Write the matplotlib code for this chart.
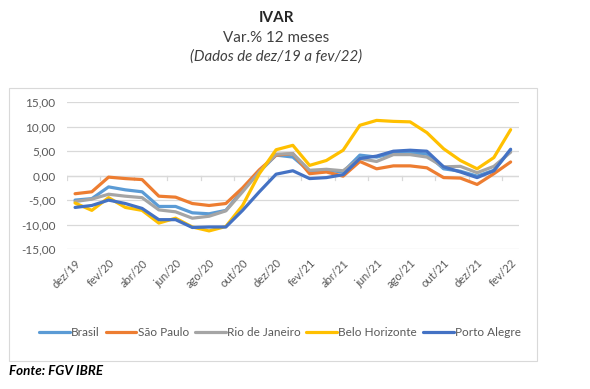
import matplotlib
matplotlib.use('Agg')
import matplotlib.pyplot as plt
from matplotlib.patches import Rectangle

# Data (var.% 12 meses), dez/19 .. fev/22
months = ['dez/19', 'jan/20', 'fev/20', 'mar/20', 'abr/20', 'mai/20', 'jun/20',
          'jul/20', 'ago/20', 'set/20', 'out/20', 'nov/20', 'dez/20', 'jan/21',
          'fev/21', 'mar/21', 'abr/21', 'mai/21', 'jun/21', 'jul/21', 'ago/21',
          'set/21', 'out/21', 'nov/21', 'dez/21', 'jan/22', 'fev/22']

brasil = [-5.0, -4.7, -2.3, -2.9, -3.3, -6.3, -6.3, -7.6, -7.8, -7.1, -3.0, 0.8, 4.2, 3.8,
          0.9, 1.1, 0.75, 4.2, 3.8, 4.6, 4.7, 4.4, 1.4, 0.9, -0.1, 1.1, 5.2]
sao_paulo = [-3.7, -3.3, -0.3, -0.6, -0.8, -4.2, -4.4, -5.7, -6.1, -5.7, -2.5, 1.2, 4.2, 4.5,
             0.4, 0.75, -0.1, 2.9, 1.4, 2.0, 2.0, 1.6, -0.4, -0.5, -1.8, 0.4, 2.8]
rio = [-5.3, -4.8, -3.8, -4.2, -4.5, -7.0, -7.4, -8.7, -8.3, -7.2, -3.3, 0.8, 4.4, 4.5,
       1.1, 1.3, 1.0, 3.5, 2.9, 4.3, 4.3, 3.8, 1.8, 1.9, 0.6, 1.9, 4.8]
belo_horizonte = [-5.6, -7.1, -4.5, -6.5, -7.1, -9.7, -8.7, -10.5, -11.3, -10.4, -6.1, 0.4, 5.3, 6.2,
                  2.1, 3.1, 5.2, 10.3, 11.3, 11.1, 11.0, 8.8, 5.5, 3.1, 1.4, 3.7, 9.4]
porto_alegre = [-6.5, -6.1, -5.0, -5.7, -6.7, -9.0, -9.0, -10.6, -10.5, -10.5, -7.1, -3.3, 0.3, 1.0,
                -0.6, -0.4, 0.2, 3.5, 4.0, 5.0, 5.2, 5.0, 1.8, 0.75, -0.4, 1.0, 5.4]

series = [
    ('Brasil', brasil, '#5B9BD5'),
    ('São Paulo', sao_paulo, '#ED7D31'),
    ('Rio de Janeiro', rio, '#A5A5A5'),
    ('Belo Horizonte', belo_horizonte, '#FFC000'),
    ('Porto Alegre', porto_alegre, '#4472C4'),
]

yticks = [15, 10, 5, 0, -5, -10, -15]

plt.rcParams['font.family'] = ['Lato', 'DejaVu Sans']
TEXT = '#595959'
GRID = '#D9D9D9'

fig = plt.figure(figsize=(5.9, 3.89), dpi=100)
W, H = 590, 389

# chart frame
fig.patches.append(Rectangle((9 / W, 1 - 361 / H), (537 - 9) / W, (361 - 88) / H,
                             transform=fig.transFigure, facecolor='white',
                             edgecolor='#D9D9D9', linewidth=0.8, zorder=-1))

ax = fig.add_axes([66.7 / W, 1 - 249 / H, (519 - 66.7) / W, (249 - 102.3) / H])
ax.set_zorder(2)
ax.set_facecolor('none')

x = list(range(len(months)))
for name, vals, color in series:
    ax.plot(x, vals, color=color, linewidth=2.3, label=name, solid_joinstyle='round',
            solid_capstyle='round', zorder=3)

ax.set_xlim(-0.5, len(months) - 0.5)
ax.set_ylim(-15, 15)
ax.set_yticks(yticks)
ax.set_yticklabels([f'{v:.2f}'.replace('.', ',') for v in yticks])
ax.grid(axis='y', color=GRID, linewidth=0.9)
ax.set_axisbelow(True)
for s in ax.spines.values():
    s.set_visible(False)
ax.tick_params(axis='y', length=0, labelsize=8.5, colors=TEXT, pad=8)

# category labels every two months, below the plot area
ax.set_xticks(x[::2])
ax.set_xticklabels(months[::2], rotation=45, ha='right', rotation_mode='anchor')
ax.tick_params(axis='x', length=0, labelsize=8, colors=TEXT, pad=6)

# zero line with tick marks
ax.axhline(0, color=GRID, linewidth=0.9, zorder=1)
for b in range(0, len(months) + 1, 2):
    ax.plot([b - 0.5, b - 0.5], [0, -0.9], color=GRID, linewidth=0.9, zorder=1)

# titles
fig.text(276 / W, 1 - 18 / H, 'IVAR', ha='center', va='center', fontsize=11,
         fontweight='bold', color='#262626')
fig.text(276 / W, 1 - 38 / H, 'Var.% 12 meses', ha='center', va='center', fontsize=10.9,
         color='#404040')
fig.text(276 / W, 1 - 57 / H, '(Dados de dez/19 a fev/22)', ha='center', va='center',
         fontsize=10.8, style='italic', color='#404040')

leg = fig.legend(loc='center', bbox_to_anchor=(280 / W, 1 - 333 / H), ncol=5, frameon=False,
                 fontsize=8.5, handlelength=2.6, handletextpad=0.1, columnspacing=0.5,
                 labelcolor=TEXT)

fig.text(9 / W, 1 - 371 / H, 'Fonte: FGV IBRE', ha='left', va='center', fontsize=9.6,
         fontweight='bold', style='italic', color='black')

fig.savefig('out.png', dpi=100, facecolor='white')
